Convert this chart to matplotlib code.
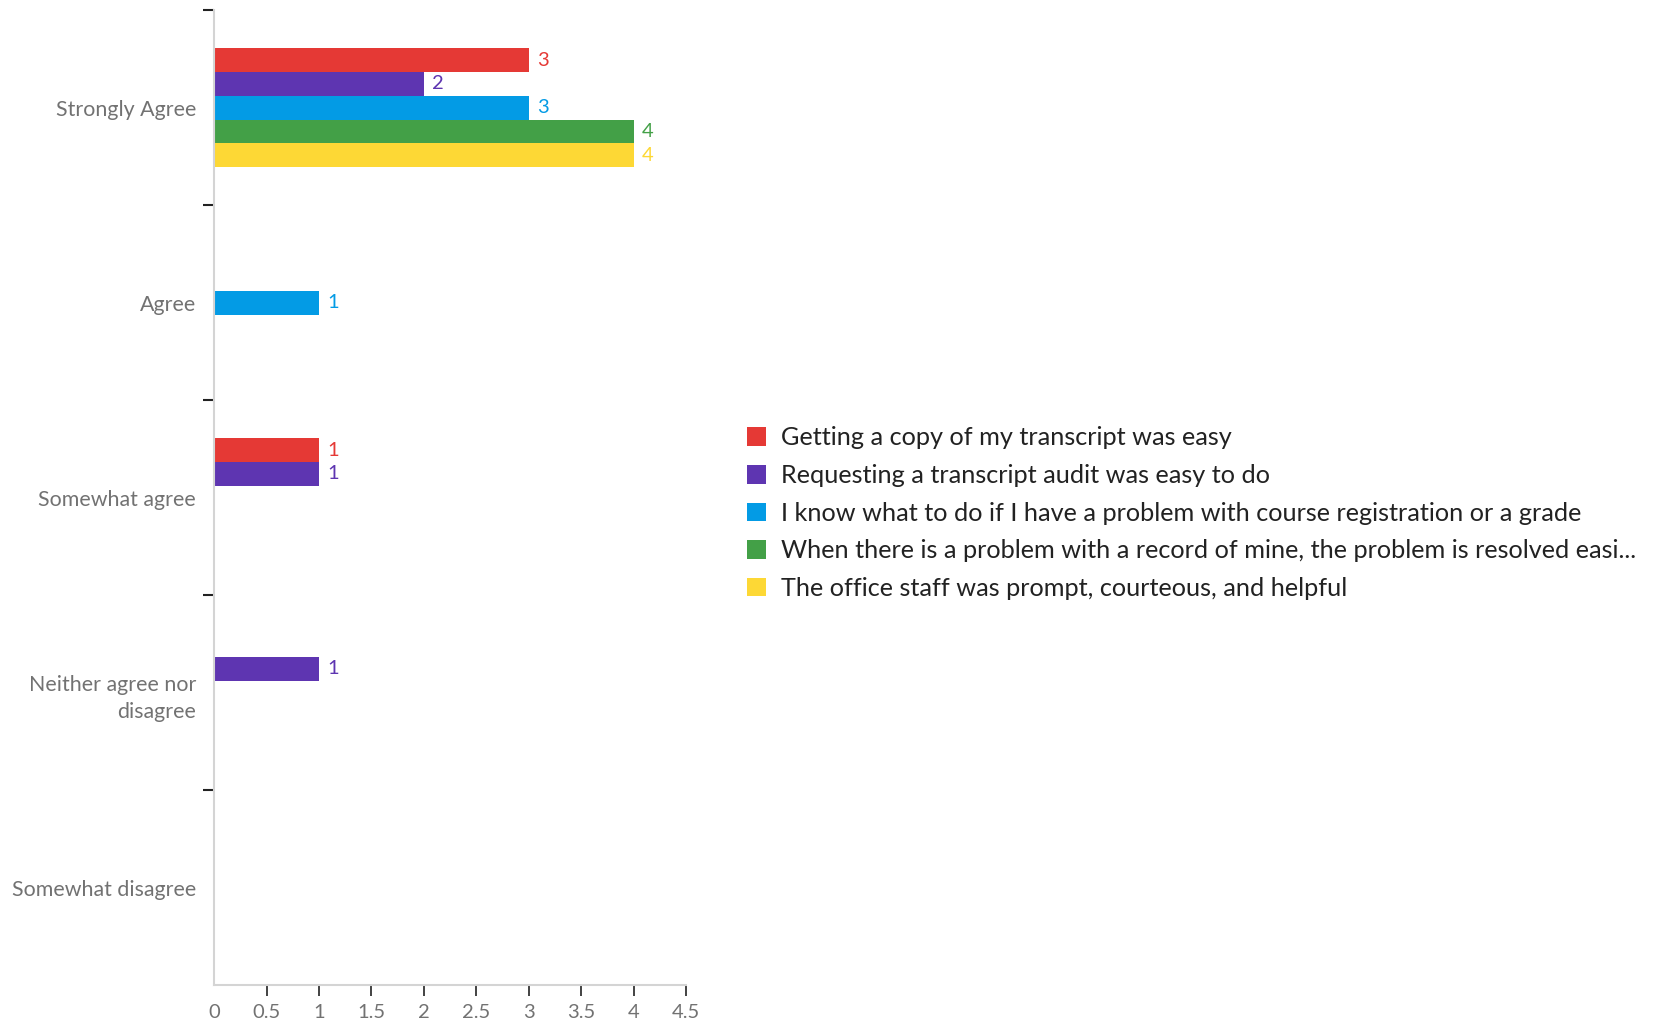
import numpy as np
import matplotlib.pyplot as plt

plt.rcParams['font.family'] = ['Lato', 'DejaVu Sans']

categories = ['Strongly Agree', 'Agree', 'Somewhat agree',
              'Neither agree nor\ndisagree', 'Somewhat disagree']
series = [
    'Getting a copy of my transcript was easy',
    'Requesting a transcript audit was easy to do',
    'I know what to do if I have a problem with course registration or a grade',
    'When there is a problem with a record of mine, the problem is resolved easi...',
    'The office staff was prompt, courteous, and helpful',
]
copy_easy = [3, 0, 1, 0, 0]
audit_easy = [2, 0, 1, 1, 0]
know_what = [3, 1, 0, 0, 0]
resolved = [4, 0, 0, 0, 0]
staff = [4, 0, 0, 0, 0]
values = [copy_easy, audit_easy, know_what, resolved, staff]
colors = ['#E53935', '#5E35B1', '#039BE5', '#43A047', '#FDD835']

fig = plt.figure(figsize=(16.53, 10.25), dpi=100)
ax = fig.add_axes([0.1295, 0.039, 0.2856, 0.951])

y = np.arange(len(categories))
h = 0.122
for i, (vals, c, name) in enumerate(zip(values, colors, series)):
    pos = y + (i - 2) * h
    vals = np.array(vals, dtype=float)
    mask = vals > 0
    ax.barh(pos[mask], vals[mask], height=h, color=c, label=name)
    # value labels only for non-empty bars
    for p, v in zip(pos[mask], vals[mask]):
        ax.text(v + 0.08, p, f'{v:g}', color=c, va='center', ha='left',
                fontsize=14.5)

ax.set_xlim(0, 4.5)
ax.set_ylim(len(categories) - 0.5, -0.5)
ax.set_xticks(np.arange(0, 4.51, 0.5))
ax.set_xticklabels(['0', '0.5', '1', '1.5', '2', '2.5', '3', '3.5', '4', '4.5'])
ax.xaxis.get_major_ticks()[0].tick1line.set_visible(False)
ax.set_yticks(y)
ax.set_yticklabels(categories, linespacing=1.45)
ax.set_yticks(np.arange(-0.5, len(categories) - 1), minor=True)
ax.tick_params(axis='y', which='major', length=0, pad=13, labelsize=15.4)
ax.tick_params(axis='y', which='minor', length=8, width=1.5, color='#222222')
ax.tick_params(axis='x', length=8, width=1.2, color='#222222', pad=6,
               labelsize=14.5)
ax.tick_params(labelcolor='#727272')

for s in ['top', 'right']:
    ax.spines[s].set_visible(False)
for s in ['left', 'bottom']:
    ax.spines[s].set_color('#d4d4d4')
    ax.spines[s].set_linewidth(1.5)

ax.legend(loc='center left', bbox_to_anchor=(1.107, 0.484), frameon=False,
          fontsize=18.2, labelcolor='#222222', handlelength=0.75,
          handleheight=0.75, handletextpad=0.6, labelspacing=0.58,
          borderaxespad=0)

fig.savefig('out.png', dpi=100)
